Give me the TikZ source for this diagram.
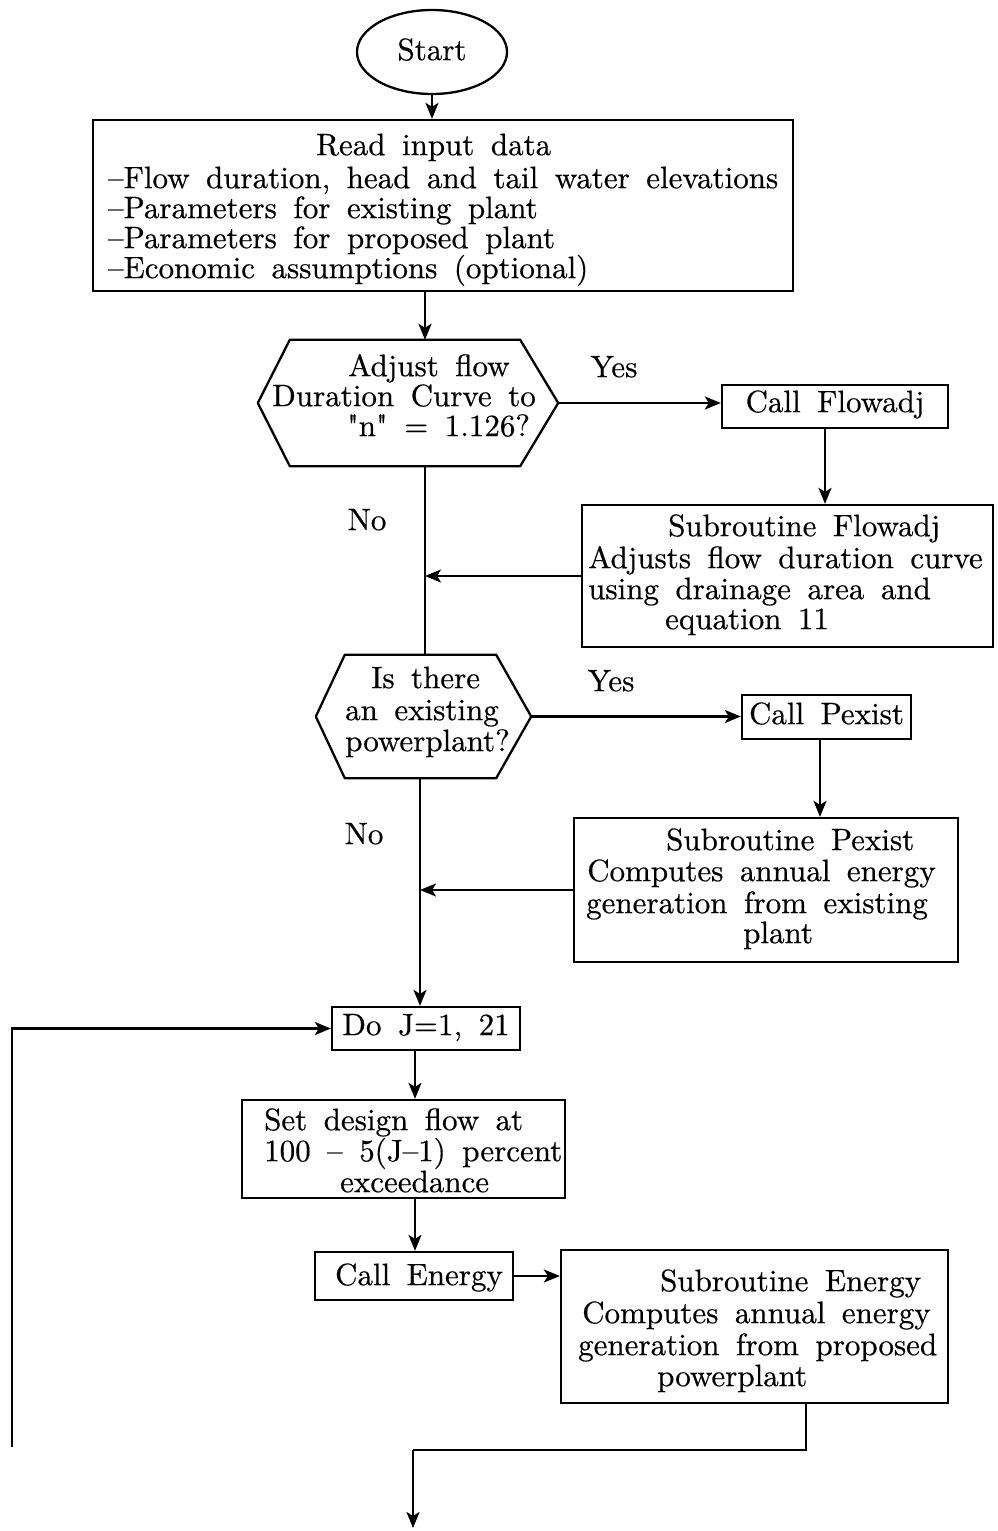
\documentclass[tikz,border=0pt]{standalone}
\usepackage{fontspec}
\setmainfont{lmroman10-regular.otf}[Ligatures=TeXOff,WordSpace=1.6,FakeBold=0.5]
\usetikzlibrary{arrows.meta,shapes.geometric}
\begin{document}
\begin{tikzpicture}[x=1pt,y=-1pt,
  every node/.style={font=\fontsize{31}{31}\selectfont},
  ln/.style={line width=2.3pt},
  arr/.style={line width=2.3pt,-{Stealth[length=16pt,width=13pt,inset=4pt]}},
  boxn/.style={draw,line width=2.3pt,rectangle,inner sep=0pt},
  ghost/.style={rectangle,inner sep=0pt},
  txt/.style={inner sep=0pt,anchor=mid west,yshift=-6pt},
  ctxt/.style={inner sep=0pt,anchor=mid,yshift=-6pt}]
\useasboundingbox (0,0) rectangle (998,1531);
\fill[white] (0,0) rectangle (998,1531);

% ---- nodes ----
\node[draw,ellipse,line width=2.3pt,minimum width=150,minimum height=84,inner sep=0pt] (start) at (432,52) {};
\node[ctxt] (tstart) at (432,52) {Start};

\node[boxn,minimum width=700,minimum height=171] (read) at (443,205.5) {};
\node[txt] (r1) at (316,147) {Read input data};
\node[txt] (r2) at (108,180) {–Flow duration, head and tail water elevations};
\node[txt] (r3) at (108,210) {–Parameters for existing plant};
\node[txt] (r4) at (108,240) {–Parameters for proposed plant};
\node[txt] (r5) at (108,270) {–Economic assumptions (optional)};

\node[ghost,minimum width=300,minimum height=126] (h1) at (408,403) {};
\draw[ln,line join=round] (h1.west) -- ([xshift=32]h1.north west) -- ([xshift=-38]h1.north east)
  -- (h1.east) -- ([xshift=-38]h1.south east) -- ([xshift=32]h1.south west) -- cycle;
\node[txt] (h1a) at (348,368) {Adjust flow};
\node[txt] (h1b) at (272,398) {Duration Curve to};
\node[txt] (h1c) at (347,428) {"n" = 1.126?};
\node[ctxt] (yes1) at (614,369) {Yes};
\node[ctxt] (no1) at (367,522) {No};

\node[boxn,minimum width=226,minimum height=43] (f1) at (835,406.5) {};
\node[ctxt] (tf1) at (835,404) {Call Flowadj};

\node[boxn,minimum width=411,minimum height=142] (sf1) at (787.5,576) {};
\node[txt] (s1a) at (668,528) {Subroutine Flowadj};
\node[txt] (s1b) at (588,560) {Adjusts flow duration curve};
\node[txt] (s1c) at (588,591) {using drainage area and};
\node[txt] (s1d) at (665,621) {equation 11};

\node[ghost,minimum width=215,minimum height=123] (h2) at (423.5,716.5) {};
\draw[ln,line join=round] (h2.west) -- ([xshift=29]h2.north west) -- ([xshift=-35]h2.north east)
  -- (h2.east) -- ([xshift=-35]h2.south east) -- ([xshift=29]h2.south west) -- cycle;
\node[txt] (h2a) at (371,680) {Is there};
\node[txt] (h2b) at (345,712) {an existing};
\node[txt] (h2c) at (345,743) {powerplant?};
\node[ctxt] (yes2) at (611,683) {Yes};
\node[ctxt] (no2) at (364,836) {No};

\node[boxn,minimum width=169,minimum height=44] (p1) at (826.5,717) {};
\node[ctxt] (tp1) at (826.5,716) {Call Pexist};

\node[boxn,minimum width=384,minimum height=144] (sp1) at (766,890) {};
\node[txt] (s2a) at (666,842) {Subroutine Pexist};
\node[txt] (s2b) at (587,873) {Computes annual energy};
\node[txt] (s2c) at (586,905) {generation from existing};
\node[txt] (s2d) at (743,935) {plant};

\node[boxn,minimum width=188,minimum height=43] (do) at (426,1028.5) {};
\node[ctxt] (tdo) at (426,1027) {Do J=1, 21};

\node[boxn,minimum width=323,minimum height=98] (sd) at (403.5,1149) {};
\node[txt] (d1) at (264,1122) {Set design flow at};
\node[txt] (d2) at (264,1153) {100 – 5(J–1) percent};
\node[txt] (d3) at (340,1184) {exceedance};

\node[boxn,minimum width=198,minimum height=48] (ce) at (414,1276) {};
\node[ctxt] (tce) at (419,1277) {Call Energy};

\node[boxn,minimum width=387,minimum height=153] (se) at (754.5,1326.5) {};
\node[txt] (e1) at (660,1283) {Subroutine Energy};
\node[txt] (e2) at (582,1315) {Computes annual energy};
\node[txt] (e3) at (578,1347) {generation from proposed};
\node[txt] (e4) at (657,1378) {powerplant};

\coordinate (mA) at (425,0);
\coordinate (mB) at (420,0);
\coordinate (mC) at (415,0);
\coordinate (lb) at (12,1447);
\coordinate (turn) at (413,1450);
\coordinate (fin) at (413,1528);

% ---- connectors ----
\draw[arr] (start.south) -- (start.south |- read.north);
\draw[arr] (read.south -| mA) -- (h1.north -| mA);
\draw[arr] (h1.east) -- (h1.east -| f1.west);
\draw[arr] ([xshift=-10]f1.south) -- ([xshift=-10]f1.south |- sf1.north);
\draw[arr] (sf1.west) -- (sf1.west -| mA);
\draw[ln] (h1.south -| mA) -- (h2.north -| mA);
\draw[arr] (h2.east) -- (h2.east -| p1.west);
\draw[arr] ([xshift=-6.5]p1.south) -- ([xshift=-6.5]p1.south |- sp1.north);
\draw[arr] (sp1.west) -- (sp1.west -| mB);
\draw[arr] (h2.south -| mB) -- (do.north -| mB);
\draw[arr] (lb) |- (do.west);
\draw[arr] (do.south -| mC) -- (sd.north -| mC);
\draw[arr] (sd.south -| mC) -- (ce.north -| mC);
\draw[arr] (ce.east) -- (ce.east -| se.west);
\draw[ln] ([xshift=51.5]se.south) |- (turn);
\draw[arr] (turn) -- (fin);
\end{tikzpicture}
\end{document}
